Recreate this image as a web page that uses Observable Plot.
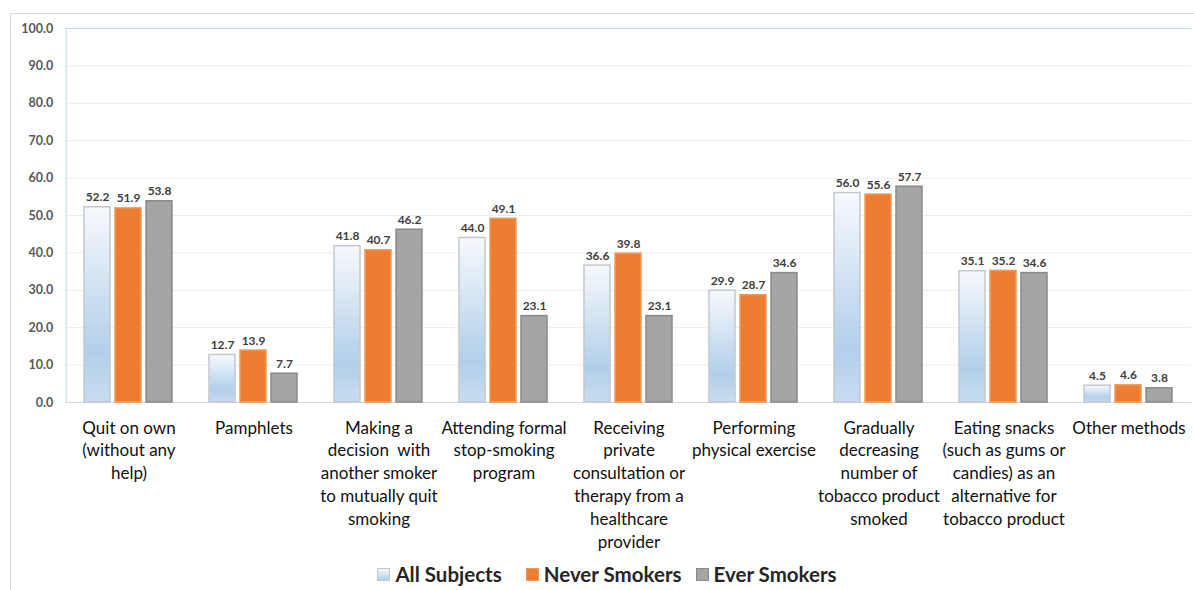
<!DOCTYPE html>
<html><head><meta charset="utf-8">
<script src="https://cdn.jsdelivr.net/npm/d3@7"></script>
<script src="https://cdn.jsdelivr.net/npm/@observablehq/plot@0.6"></script>
<style>
body{margin:0;background:#fff;font-family:Lato,"Open Sans",sans-serif;width:1194px;height:590px;overflow:hidden;position:relative;}
#frame{position:absolute;left:10px;top:13px;width:1200px;height:600px;border-left:1px solid #d9d9d9;border-top:1px solid #d9d9d9;}
#chart{position:absolute;left:0;top:0;}
#legend{position:absolute;top:562px;left:0;width:1194px;display:flex;justify-content:center;font-weight:bold;font-size:20.5px;color:#262626;padding-left:20px;box-sizing:border-box;}
.item{display:flex;align-items:center;gap:5px;}
.item:nth-child(1){margin-right:24px;}
.item:nth-child(2){margin-right:14px;}
.sw{width:11px;height:11px;display:inline-block;}
</style></head>
<body>
<div id="frame"></div>
<div id="chart"></div>
<div id="legend"></div>
<script>
const categories = ["Quit on own","Pamphlets","Making a decision","Attending formal","Receiving private","Performing","Gradually","Eating snacks","Other methods"];
const categoryLabels = [
  "Quit on own\n(without any\nhelp)",
  "Pamphlets",
  "Making a\ndecision  with\nanother smoker\nto mutually quit\nsmoking",
  "Attending formal\nstop-smoking\nprogram",
  "Receiving\nprivate\nconsultation or\ntherapy from a\nhealthcare\nprovider",
  "Performing\nphysical exercise",
  "Gradually\ndecreasing\nnumber of\ntobacco product\nsmoked",
  "Eating snacks\n(such as gums or\ncandies) as an\nalternative for\ntobacco product",
  "Other methods"
];
const seriesNames = ["All Subjects","Never Smokers","Ever Smokers"];
const allSubjects  = [52.2, 12.7, 41.8, 44.0, 36.6, 29.9, 56.0, 35.1, 4.5];
const neverSmokers = [51.9, 13.9, 40.7, 49.1, 39.8, 28.7, 55.6, 35.2, 4.6];
const everSmokers  = [53.8, 7.7, 46.2, 23.1, 23.1, 34.6, 57.7, 34.6, 3.8];
const yTicks = [0,10,20,30,40,50,60,70,80,90,100];

const seriesValues = [allSubjects, neverSmokers, everSmokers];
const fills = ["url(#gradAll)", "#ED7D31", "#A5A5A5"];
const strokes = ["#c3c9cf", "#f29a5c", "#8a8a8a"];
const labelMap = new Map(categories.map((c,i)=>[c, categoryLabels[i]]));

const data = [];
categories.forEach((c,i)=>seriesNames.forEach((s,j)=>data.push({cat:c, series:s, value:seriesValues[j][i]})));

const outer = 0.1375 * (1130 / 9); // outer padding of the facet band scale, in px
const chart = Plot.plot({
  width:1194, height:560,
  marginTop:28, marginBottom:158, marginLeft:63, marginRight:1,
  style:{background:"transparent", fontFamily:"Lato, 'Open Sans', sans-serif"},
  fx:{domain:categories, paddingInner:0.275, paddingOuter:0.1375, label:null, axis:null},
  x:{domain:seriesNames, paddingInner:0.156, paddingOuter:0, axis:null},
  y:{domain:[0,100], axis:null},
  marks:[
    Plot.ruleY(yTicks.filter(d=>d>0 && d<100), {stroke:"#ececec", strokeWidth:1, insetLeft:-outer, insetRight:-outer}),
    Plot.ruleY([100], {stroke:"#c5d9ee", strokeWidth:1, insetLeft:-outer, insetRight:-outer}),
    Plot.ruleY([0], {stroke:"#d9d9d9", strokeWidth:1, insetLeft:-outer, insetRight:-outer}),
    Plot.frame({anchor:"left", facetAnchor:"left", stroke:"#c5d9ee", insetLeft:-outer}),
    Plot.axisY({ticks:yTicks, tickFormat:d=>d.toFixed(1), tickSize:0, tickPadding:13+outer, fontSize:12.5, fontWeight:"bold", fill:"#595959", label:null}),
    Plot.barY(data, {fx:"cat", x:"series", y:"value",
      fill: d=>fills[seriesNames.indexOf(d.series)],
      stroke: d=>strokes[seriesNames.indexOf(d.series)],
      strokeWidth:1.5}),
    Plot.text(data, {fx:"cat", x:"series", y:"value", text:d=>d.value.toFixed(1), dy:-6, lineAnchor:"bottom", fontSize:12, fontWeight:"bold", fill:"#404040"}),
    Plot.axisFx({anchor:"bottom", tickFormat:d=>labelMap.get(d), tickSize:0, tickPadding:15, fontSize:17, lineHeight:1.34, fill:"#111", label:null})
  ]
});
d3.select(chart).insert("defs", ":first-child").html(
  '<linearGradient id="gradAll" x1="0" y1="0" x2="0" y2="1">' +
  '<stop offset="0%" stop-color="#f6f9fd"/>' +
  '<stop offset="75%" stop-color="#b2cfea"/>' +
  '<stop offset="100%" stop-color="#c8dcf0"/></linearGradient>');
document.getElementById("chart").appendChild(chart);

const legend = document.getElementById("legend");
seriesNames.forEach((s,j)=>{
  const it = document.createElement("div"); it.className="item";
  const sw = document.createElement("span"); sw.className="sw";
  sw.style.background = j===0 ? "linear-gradient(#f6f9fd,#b2cfea)" : fills[j];
  sw.style.border = "1px solid " + strokes[j];
  it.appendChild(sw);
  const t = document.createElement("span"); t.textContent = s; it.appendChild(t);
  legend.appendChild(it);
});
</script>
</body></html>
